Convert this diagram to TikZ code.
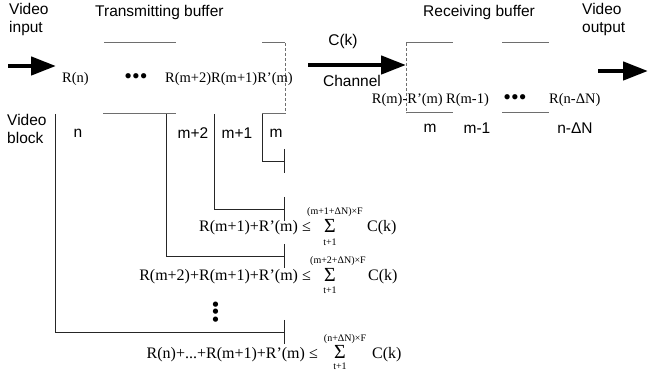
\documentclass[tikz,border=0pt]{standalone}
\usepackage{fontspec}
\setmainfont{Liberation Serif}
\setsansfont{Liberation Sans}
\definecolor{bufgray}{RGB}{110,110,110}
\usetikzlibrary{arrows.meta}
\begin{document}
\begin{tikzpicture}[x=1pt,y=-1pt,
  lbl/.style={font=\sffamily\fontsize{15.5}{18}\selectfont, inner sep=0pt},
  rlbl/.style={font=\fontsize{14.5}{17}\selectfont, inner sep=0pt},
  flbl/.style={font=\fontsize{16}{18}\selectfont, inner sep=0pt},
  sumlbl/.style={font=\fontsize{20}{22}\selectfont, inner sep=0pt},
  limlbl/.style={font=\fontsize{10}{11}\selectfont, inner sep=0pt},
  dotlbl/.style={font=\fontsize{22}{22}\selectfont, inner sep=0pt},
  bufline/.style={bufgray, line width=1pt},
  bigarrow/.style={line width=4.5pt, -{Triangle[length=25pt,width=18pt]}},
  bracket/.style={line width=0.9pt, black!85, -{Bar[width=24pt]}}]

\useasboundingbox (0,0) rectangle (649,371);

% --- Titles ---
\node[lbl, align=left, anchor=north west] (vin) at (9,3) {Video\\input};
\node[lbl, anchor=west] (tbuf) at (95,12) {Transmitting buffer};
\node[lbl, anchor=west] (rbuf) at (423,12) {Receiving buffer};
\node[lbl, align=left, anchor=north west] (vout) at (582,3) {Video\\output};
\node[lbl] (ck) at (343,41) {C(k)};
\node[lbl] (chan) at (352,81) {Channel};
\node[lbl, align=left, anchor=north west] (vblock) at (7,114) {Video\\block};

% --- Arrows ---
\coordinate (inA) at (8,66);
\coordinate (inB) at (56,66);
\coordinate (chA) at (308,65);
\coordinate (chB) at (406,65);
\coordinate (outA) at (598,71);
\coordinate (outB) at (648,71);
\draw[bigarrow] (inA) -- (inB);
\draw[bigarrow] (chA) -- (chB);
\draw[bigarrow] (outA) -- (outB);

% --- Transmitting buffer ---
\draw[bufline] (104,43) -- (176,43);
\draw[bufline] (262,43) -- (285,43);
\draw[bufline] (103,114) -- (176,114);
\draw[bufline] (262,114) -- (285,114);
\draw[bufline, dashed, dash pattern=on 3pt off 2pt] (285,43) -- (285,114);

\node[rlbl, anchor=west] (rn) at (62,79) {R(n)};
\node[dotlbl] (tdots) at (136,79) {•••};
\node[rlbl, anchor=west] (rm) at (165,79) {R(m+2)R(m+1)R’(m)};

% --- Receiving buffer ---
\draw[bufline] (406,43) -- (453,43);
\draw[bufline] (502,43) -- (549,43);
\draw[bufline] (406,113) -- (453,113);
\draw[bufline] (502,113) -- (549,113);
\draw[bufline, dashed, dash pattern=on 3pt off 2pt] (406,43) -- (406,113);

\node[rlbl, anchor=east] (rrm) at (443,100) {R(m)-R’(m)};
\node[rlbl, anchor=west] (rrm1) at (446,100) {R(m-1)};
\node[dotlbl] (rdots) at (515,100) {•••};
\node[rlbl, anchor=west] (rrn) at (549,100) {R(n-ΔN)};

\node[lbl] (lm) at (430,128) {m};
\node[lbl] (lm1) at (477,128) {m-1};
\node[lbl] (lnd) at (575,128) {n-ΔN};

% --- Video blocks ---
\node[lbl] (bn) at (78,133) {n};
\node[lbl] (bm2) at (193,133) {m+2};
\node[lbl] (bm1) at (237,133) {m+1};
\node[lbl] (bm) at (276,133) {m};

\foreach \x/\y/\nm in {55/332/n, 166/256/mtwo, 214/209/mone, 262/161/m}{
  \coordinate (top\nm) at (\x,114);
  \coordinate (end\nm) at (285,\y);
  \draw[bracket] (top\nm) |- (end\nm);
}

% --- Constraints ---
\node[flbl, anchor=east] (lhs1) at (311,228) {R(m+1)+R’(m) ≤};
\node[sumlbl] (sum1) at (330,226) {Σ};
\node[limlbl] (up1) at (335,212) {(m+1+ΔN)×F};
\node[limlbl] (lo1) at (330,242) {t+1};
\node[flbl, anchor=west] (ck1) at (367,228) {C(k)};

\node[flbl, anchor=east] (lhs2) at (311,277) {R(m+2)+R(m+1)+R’(m) ≤};
\node[sumlbl] (sum2) at (330,275) {Σ};
\node[limlbl] (up2) at (338,261) {(m+2+ΔN)×F};
\node[limlbl] (lo2) at (330,290) {t+1};
\node[flbl, anchor=west] (ck2) at (368,277) {C(k)};

\node[dotlbl, rotate=90] (vdots) at (218,312) {•••};

\node[flbl, anchor=east] (lhs3) at (318,355) {R(n)+...+R(m+1)+R’(m) ≤};
\node[sumlbl] (sum3) at (340,352) {Σ};
\node[limlbl] (up3) at (345,339) {(n+ΔN)×F};
\node[limlbl] (lo3) at (340,366) {t+1};
\node[flbl, anchor=west] (ck3) at (372,355) {C(k)};

\end{tikzpicture}
\end{document}
